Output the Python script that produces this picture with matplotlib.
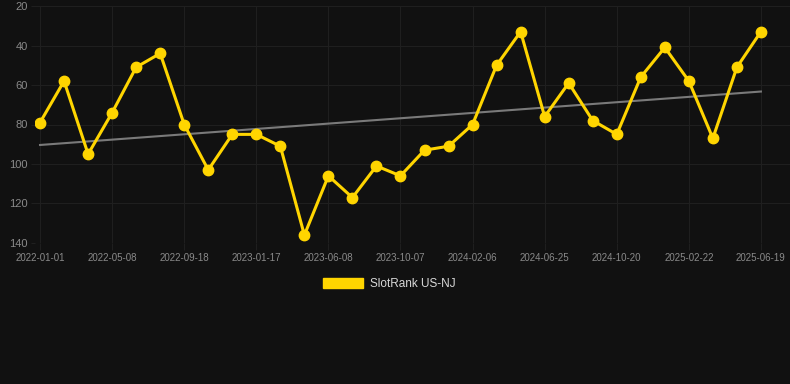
import numpy as np
import matplotlib
matplotlib.use("Agg")
import matplotlib.pyplot as plt
from matplotlib.patches import Patch

plt.rcParams['font.family'] = ['Liberation Sans', 'DejaVu Sans']

## data (rank, lower is better)
ranks = [79, 58, 95, 74, 51, 44, 80, 103, 85, 85, 91, 136, 106, 117, 101, 106,
         93, 91, 80, 50, 33, 76, 59, 78, 85, 56, 41, 58, 87, 51, 33]
tick_labels = ['2022-01-01', '2022-05-08', '2022-09-18', '2023-01-17', '2023-06-08',
               '2023-10-07', '2024-02-06', '2024-06-25', '2024-10-20', '2025-02-22',
               '2025-06-19']
series_name = 'SlotRank US-NJ'

bg = '#111111'
grid_c = '#1f1f1f'
gold = '#FFD500'

x = np.arange(len(ranks))
coef = np.polyfit(x, ranks, 1)
trend = np.polyval(coef, x)

fig = plt.figure(figsize=(7.9, 3.84), dpi=100, facecolor=bg)
ax = fig.add_axes([35/790, 1 - 243/384, 755/790, 237/384], facecolor=bg)

ax.plot(x, trend, color='#7a7a7a', lw=1.5, zorder=2)
ax.plot(x, ranks, color=gold, lw=2.2, marker='o', markersize=7.5, zorder=3)

## axes
ax.set_ylim(140, 20)
ax.set_yticks(np.arange(20, 141, 20))
ax.set_xlim(-0.21, 31.21)
ax.set_xticks(x[::3])
ax.set_xticklabels(tick_labels)

ax.grid(True, color=grid_c, lw=0.8)
for s in ax.spines.values():
    s.set_visible(False)
ax.tick_params(axis='y', colors=grid_c, labelcolor='#8a8a8a', labelsize=8,
               length=3, pad=2)
ax.tick_params(axis='x', colors=grid_c, labelcolor='#8a8a8a', labelsize=7,
               length=5, pad=2)

## legend
fig.legend(handles=[Patch(facecolor=gold, edgecolor=gold)], labels=[series_name],
           loc='center', bbox_to_anchor=(389/790, 1 - 284/384), frameon=False,
           fontsize=8.5, labelcolor='#d8d8d8', handlelength=3.4, handleheight=1.0,
           handletextpad=0.6)

fig.savefig('out.png', dpi=100, facecolor=bg)
